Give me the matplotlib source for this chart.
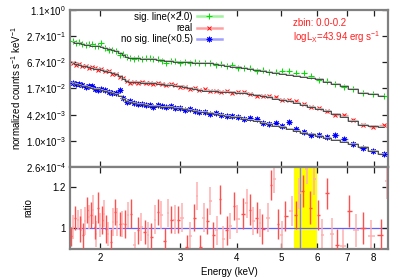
import numpy as np
import matplotlib
matplotlib.use("Agg")
import matplotlib.pyplot as plt
from matplotlib.lines import Line2D
from matplotlib.ticker import FixedLocator, NullLocator

plt.rcParams['font.family'] = ['Liberation Sans', 'DejaVu Sans']
plt.rcParams['mathtext.fontset'] = 'custom'
plt.rcParams['mathtext.rm'] = 'Liberation Sans'
plt.rcParams['mathtext.default'] = 'regular'

# ---------------- data ----------------
energy = [1.74, 1.77, 1.80, 1.83, 1.86, 1.89, 1.92, 1.95, 1.98, 2.01,
          2.05, 2.09, 2.13, 2.17, 2.21, 2.25, 2.29, 2.33, 2.37, 2.42,
          2.47, 2.52, 2.57, 2.62, 2.68, 2.74, 2.80, 2.86, 2.93, 3.00,
          3.07, 3.15, 3.23, 3.31, 3.40, 3.49, 3.59, 3.69, 3.80, 3.91,
          4.03, 4.15, 4.28, 4.42, 4.56, 4.71, 4.87, 5.04, 5.22, 5.41,
          5.61, 5.83, 6.06, 6.31, 6.58, 6.88, 7.20, 7.56, 7.96, 8.42]

green_model = [0.198, 0.192, 0.186, 0.181, 0.175, 0.171, 0.166, 0.162, 0.158, 0.154,
               0.145, 0.136, 0.128, 0.122, 0.112, 0.0995, 0.0893, 0.0851, 0.0846, 0.0837,
               0.0829, 0.0820, 0.0815, 0.0799, 0.0777, 0.0761, 0.0742, 0.0722, 0.0703, 0.0688,
               0.0684, 0.0677, 0.0670, 0.0666, 0.0660, 0.0645, 0.0619, 0.0593, 0.0569, 0.0543,
               0.0519, 0.0495, 0.0474, 0.0452, 0.0431, 0.0411, 0.0392, 0.0374, 0.0354, 0.0336,
               0.0319, 0.0301, 0.0273, 0.0244, 0.0217, 0.0191, 0.0164, 0.0135, 0.0123, 0.0113]

red_model = [0.0642, 0.0619, 0.0593, 0.0569, 0.0548, 0.0528, 0.0506, 0.0487, 0.0469, 0.0452,
             0.0427, 0.0400, 0.0378, 0.0358, 0.0326, 0.0286, 0.0251, 0.0238, 0.0236, 0.0234,
             0.0231, 0.0229, 0.0228, 0.0223, 0.0218, 0.0213, 0.0207, 0.0202, 0.0197, 0.0190,
             0.0182, 0.0174, 0.0167, 0.0160, 0.0152, 0.0147, 0.0145, 0.0142, 0.0139, 0.0137,
             0.0134, 0.0131, 0.0124, 0.0117, 0.0111, 0.0106, 0.0099, 0.00936, 0.00865, 0.00797,
             0.00718, 0.00649, 0.00572, 0.00498, 0.00434, 0.00374, 0.00308, 0.00247, 0.00230, 0.00215]

blue_model = [0.0222, 0.0214, 0.0205, 0.0197, 0.0189, 0.0181, 0.0175, 0.0168, 0.0162, 0.0156,
              0.0147, 0.0139, 0.0130, 0.0124, 0.0113, 0.00988, 0.00865, 0.00807, 0.00782, 0.00753,
              0.00726, 0.00699, 0.00677, 0.00660, 0.00650, 0.00640, 0.00629, 0.00619, 0.00609, 0.00591,
              0.00566, 0.00542, 0.00517, 0.00496, 0.00472, 0.00452, 0.00434, 0.00415, 0.00399, 0.00380,
              0.00364, 0.00343, 0.00320, 0.00294, 0.00274, 0.00252, 0.00235, 0.00213, 0.00194, 0.00178,
              0.00162, 0.00147, 0.00134, 0.00121, 0.00110, 0.000989, 0.000862, 0.000740, 0.000611, 0.000533]

# data / model
green_dev = [1.04, 0.98, 1.08, 1.02, 0.97, 1.05, 1.10, 0.99, 1.03, 1.22,
             1.00, 0.96, 1.05, 1.02, 0.90, 1.06, 1.00, 1.03, 0.98, 1.04,
             0.97, 1.02, 1.06, 0.99, 1.03, 0.97, 0.88, 1.01, 1.04, 0.97,
             1.03, 0.99, 1.05, 0.98, 1.02, 1.04, 0.96, 1.03, 0.99, 1.06,
             0.98, 1.02, 1.08, 0.97, 1.04, 1.00, 1.06, 1.12, 1.18, 1.15,
             1.20, 1.10, 0.98, 1.04, 1.00, 0.96, 1.03, 0.98, 1.01, 1.00]
red_dev = [1.03, 0.97, 1.05, 0.99, 1.02, 0.96, 1.04, 1.01, 0.97, 1.03,
           0.99, 1.05, 0.98, 1.02, 0.96, 1.04, 1.00, 0.97, 1.03, 0.99,
           1.05, 0.98, 1.02, 0.97, 1.04, 1.00, 0.97, 1.05, 1.06, 0.98,
           1.03, 0.97, 1.04, 1.00, 1.07, 0.99, 1.02, 0.98, 1.05, 0.97,
           1.03, 1.06, 1.00, 0.96, 1.04, 1.05, 1.08, 0.99, 1.06, 1.10,
           1.03, 0.98, 1.05, 1.02, 0.96, 1.08, 1.04, 0.99, 0.97, 1.10]
blue_dev = [1.04, 0.98, 1.06, 1.02, 0.97, 1.05, 1.08, 1.00, 0.95, 1.03,
            1.07, 0.99, 1.04, 1.10, 1.40, 1.02, 0.97, 1.06, 1.01, 0.96,
            1.04, 0.99, 1.03, 0.97, 1.06, 1.02, 0.98, 1.05, 0.99, 1.03,
            0.97, 1.05, 1.01, 0.96, 1.04, 0.99, 1.06, 1.02, 0.97, 1.05,
            1.03, 0.96, 1.08, 1.12, 1.00, 1.04, 1.15, 1.06, 1.45, 1.10,
            1.02, 0.98, 1.05, 1.08, 1.30, 1.15, 1.02, 0.95, 1.00, 0.98]
rel_err = [0.03, 0.03, 0.03, 0.03, 0.03, 0.03, 0.03, 0.03, 0.03, 0.03,
           0.03, 0.03, 0.03, 0.03, 0.03, 0.03, 0.03, 0.03, 0.03, 0.03,
           0.035, 0.035, 0.035, 0.035, 0.035, 0.035, 0.035, 0.035, 0.035, 0.035,
           0.035, 0.035, 0.035, 0.035, 0.035, 0.045, 0.045, 0.045, 0.045, 0.045,
           0.045, 0.045, 0.045, 0.045, 0.045, 0.06, 0.06, 0.06, 0.06, 0.06,
           0.06, 0.06, 0.06, 0.08, 0.08, 0.08, 0.08, 0.08, 0.08, 0.08]

ratio_energy = [1.724, 1.744, 1.764, 1.789, 1.804, 1.819, 1.835, 1.857, 1.876, 1.890,
                1.914, 1.931, 1.947, 1.963, 1.980, 2.003, 2.024, 2.041, 2.065, 2.083,
                2.112, 2.136, 2.161, 2.183, 2.210, 2.239, 2.274, 2.305, 2.337, 2.385,
                2.425, 2.466, 2.509, 2.551, 2.594, 2.647, 2.684, 2.729, 2.776, 2.823,
                2.870, 2.920, 2.970, 3.026, 3.103, 3.156, 3.225, 3.275, 3.320, 3.388,
                3.446, 3.499, 3.552, 3.614, 3.675, 3.737, 3.801, 3.866, 3.945, 4.011,
                4.135, 4.207, 4.278, 4.350, 4.426, 4.501, 4.554, 4.694, 4.758, 4.839,
                4.923, 5.024, 5.108, 5.285, 5.393, 5.492, 5.587, 5.702, 5.798, 5.917,
                6.047, 6.170, 6.310, 6.472, 6.638, 6.843, 7.076, 7.309, 7.574, 7.900,
                8.298, 8.553]
ratio_value = [0.957, 1.003, 1.048, 1.040, 0.995, 1.037, 0.962, 1.032, 1.087, 1.053,
               1.062, 1.090, 1.003, 0.970, 1.100, 1.012, 1.037, 1.070, 0.995, 0.970,
               0.928, 1.028, 1.078, 1.028, 1.020, 1.020, 1.020, 1.062, 1.070, 0.917,
               0.987, 1.003, 0.978, 0.962, 0.953, 1.040, 1.078, 1.062, 0.937, 1.073,
               1.040, 1.040, 1.040, 1.050, 0.903, 0.958, 1.050, 1.158, 0.903, 1.050,
               1.032, 1.132, 0.962, 0.987, 1.140, 0.942, 0.987, 1.007, 1.108, 1.042,
               1.070, 1.120, 1.090, 1.032, 1.050, 1.023, 0.995, 1.050, 1.212, 1.242,
               1.020, 0.965, 1.058, 1.082, 1.062, 1.170, 1.182, 1.292, 1.100, 1.240,
               1.062, 0.962, 1.170, 0.970, 0.915, 0.912, 1.082, 0.987, 0.998, 0.957,
               0.965, 1.232]
ratio_err = [0.045, 0.06, 0.06, 0.05, 0.065, 0.055, 0.06, 0.07, 0.065, 0.06,
             0.065, 0.07, 0.06, 0.065, 0.075, 0.06, 0.07, 0.065, 0.07, 0.06,
             0.065, 0.07, 0.065, 0.07, 0.06, 0.065, 0.07, 0.065, 0.07, 0.06,
             0.065, 0.07, 0.06, 0.065, 0.07, 0.07, 0.065, 0.07, 0.06, 0.07,
             0.065, 0.07, 0.065, 0.07, 0.06, 0.07, 0.065, 0.07, 0.06, 0.07,
             0.065, 0.07, 0.065, 0.07, 0.07, 0.065, 0.07, 0.065, 0.07, 0.07,
             0.075, 0.07, 0.075, 0.07, 0.075, 0.07, 0.075, 0.07, 0.075, 0.07,
             0.075, 0.07, 0.075, 0.075, 0.07, 0.075, 0.08, 0.075, 0.08, 0.08,
             0.075, 0.08, 0.075, 0.08, 0.08, 0.08, 0.08, 0.08, 0.08, 0.08,
             0.08, 0.09]

legend_labels = ['sig. line(\u00d72.0)', 'real', 'no sig. line(\u00d70.5)']
x_ticks = [2, 3, 4, 5, 6, 7, 8]
y_tick_labels = [r'2.6$\times$10$^{-4}$', r'1.0$\times$10$^{-3}$', r'4.2$\times$10$^{-3}$',
                 r'1.7$\times$10$^{-2}$', r'6.7$\times$10$^{-2}$', r'2.7$\times$10$^{-1}$',
                 r'1.1$\times$10$^{0}$']
band_lo, band_hi, line_e = 5.35, 6.0, 5.51

# ---------------- figure ----------------
fig = plt.figure(figsize=(4.0, 2.79), dpi=100)
ax1 = fig.add_axes([0.175, 0.4014, 0.795, 0.5628])
ax2 = fig.add_axes([0.175, 0.1075, 0.795, 0.2939])

E = np.array(energy)
le = np.log(E)
edges = np.exp(np.concatenate([[le[0] - (le[1] - le[0]) / 2], (le[1:] + le[:-1]) / 2,
                               [le[-1] + (le[-1] - le[-2]) / 2]]))
xerr = np.vstack([E - edges[:-1], edges[1:] - E]) * 0.8
rel = np.array(rel_err)

series = [
    (green_model, green_dev, '#00e000', '#a0f4a0', '+', 4),
    (red_model, red_dev, '#ff1010', '#ffa0a0', 'x', 3),
    (blue_model, blue_dev, '#0000ff', '#a0a0ff', (8, 2, 0), 4),
]
handles = []
for (model, dev, col, lcol, mk, ms), lab in zip(series, legend_labels):
    m = np.array(model)
    d = m * np.array(dev)
    ax1.errorbar(E, d, yerr=d * rel, xerr=xerr, fmt='none', ecolor=lcol, elinewidth=1.0,
                 capsize=0, zorder=2)
    ax1.plot(E, d, linestyle='none', marker=mk, ms=ms, mew=0.7, color=col, zorder=3)
    ax1.plot(E, m, drawstyle='steps-mid', color='#b8b8b8', lw=1.2, zorder=3.5)
    ax1.plot(E, m, drawstyle='steps-mid', color='#202020', lw=0.5, zorder=4)
    handles.append(Line2D([], [], color=lcol, lw=1.8, marker=mk, ms=ms, mew=0.7,
                          mec=col, mfc=col))

ax1.set_xscale('log')
ax1.set_yscale('log')
ax1.set_xlim(1.718, 8.6)
ax1.set_ylim(2.6e-4, 1.1)
ax1.yaxis.set_major_locator(FixedLocator(np.geomspace(2.6e-4, 1.1, 7)))
ax1.yaxis.set_minor_locator(NullLocator())
ax1.set_yticklabels(y_tick_labels)
ax1.xaxis.set_major_locator(FixedLocator(x_ticks))
ax1.xaxis.set_minor_locator(NullLocator())
ax1.set_xticklabels([])
ax1.set_ylabel(r'normalized counts s$^{-1}$ keV$^{-1}$', fontsize=7, labelpad=2)

leg = ax1.legend(handles, legend_labels, loc='upper right', bbox_to_anchor=(0.49, 1.015),
                 frameon=False, markerfirst=False, fontsize=7, handlelength=2.6,
                 labelspacing=0.15, handletextpad=0.4, borderaxespad=0.0)

ax1.text(0.70, 0.915, 'zbin: 0.0-0.2', transform=ax1.transAxes, color='#ff2020',
         fontsize=7, va='center')
ax1.text(0.70, 0.825, r'logL$_X$=43.94 erg s$^{-1}$', transform=ax1.transAxes,
         color='#ff2020', fontsize=7, va='center')

# ratio panel
ax2.axvspan(band_lo, band_hi, color='#ffff00', zorder=0, lw=0)
ax2.axvline(line_e, color='#8080ff', lw=1.0, zorder=1)
ax2.axhline(1.0, color='#6060ff', lw=0.9, zorder=1)
RE = np.array(ratio_energy)
RV = np.array(ratio_value)
RR = np.array(ratio_err)
lre = np.log(RE)
redges = np.exp(np.concatenate([[lre[0] - (lre[1] - lre[0]) / 2], (lre[1:] + lre[:-1]) / 2,
                                [lre[-1] + (lre[-1] - lre[-2]) / 2]]))
rxerr = np.vstack([RE - redges[:-1], redges[1:] - RE]) * 0.8
idx_dark = np.arange(len(RE)) % 2 == 0
idx_light = ~idx_dark
ax2.errorbar(RE[idx_light], RV[idx_light], yerr=RR[idx_light], xerr=rxerr[:, idx_light],
             fmt='none', ecolor='#ffb0b0', elinewidth=1.1, capsize=0, zorder=2)
ax2.errorbar(RE[idx_dark], RV[idx_dark], yerr=RR[idx_dark], xerr=rxerr[:, idx_dark],
             fmt='none', ecolor='#ff5050', elinewidth=1.0, capsize=0, zorder=3)

ax2.set_xscale('log')
ax2.set_xlim(1.718, 8.6)
ax2.set_ylim(0.895, 1.30)
ax2.xaxis.set_major_locator(FixedLocator(x_ticks))
ax2.xaxis.set_minor_locator(NullLocator())
ax2.set_xticklabels([str(t) for t in x_ticks])
ax2.yaxis.set_major_locator(FixedLocator([1.0, 1.2]))
ax2.yaxis.set_minor_locator(NullLocator())
ax2.set_yticklabels(['1', '1.2'])
ax2.set_xlabel('Energy (keV)', fontsize=7, labelpad=3)
ax2.set_ylabel('ratio', fontsize=7, labelpad=14)

for ax in (ax1, ax2):
    for sp in ax.spines.values():
        sp.set_color('#808080')
        sp.set_linewidth(1.6)
    ax.tick_params(which='both', direction='in', length=4, width=0.9, color='#202020',
                   top=True, right=True, labelsize=7, pad=3)

fig.savefig('out.png', dpi=100)
